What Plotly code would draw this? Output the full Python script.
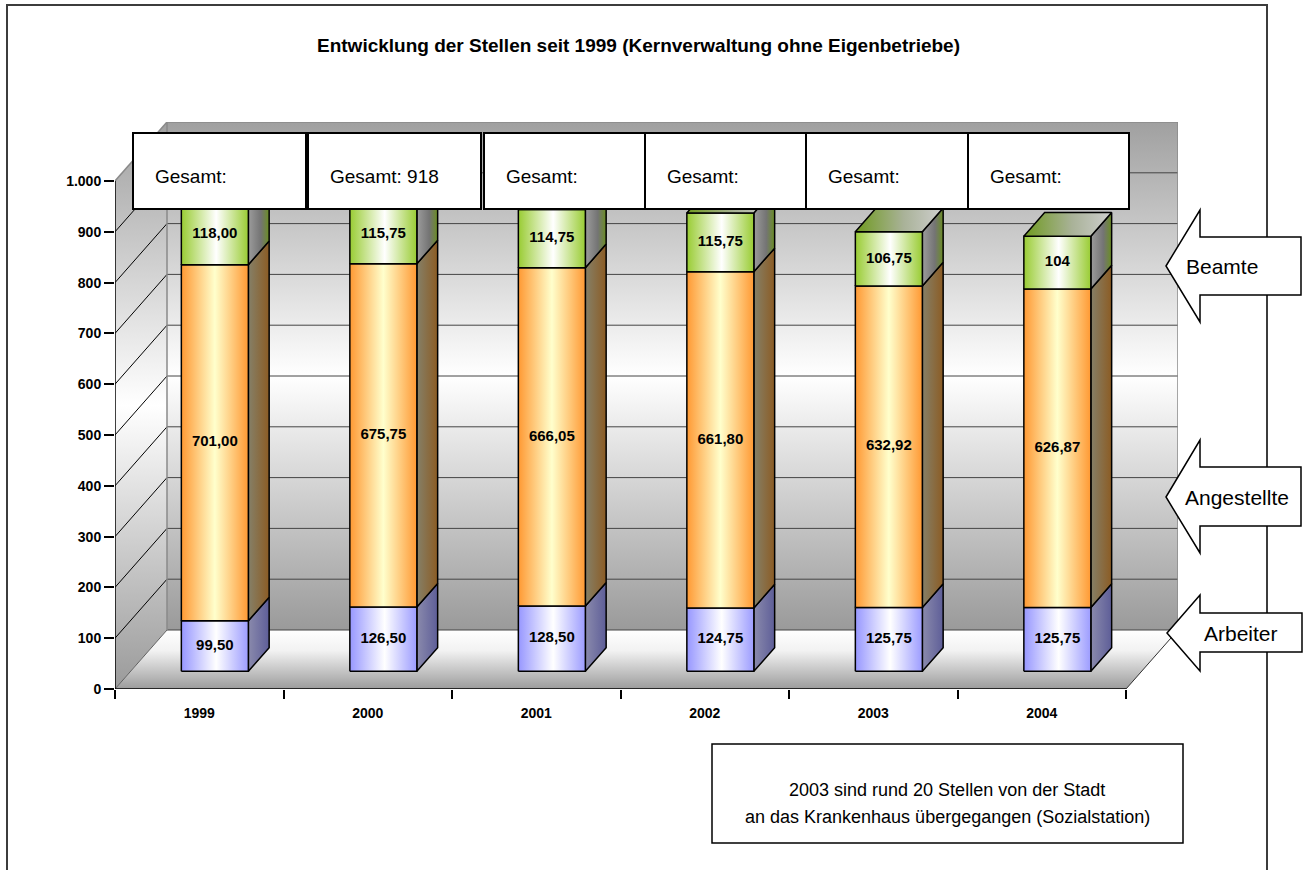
import plotly.graph_objects as go

# ---------------- data ----------------
years = ['1999', '2000', '2001', '2002', '2003', '2004']
arbeiter = [99.50, 126.50, 128.50, 124.75, 125.75, 125.75]
angestellte = [701.00, 675.75, 666.05, 661.80, 632.92, 626.87]
beamte = [118.00, 115.75, 114.75, 115.75, 106.75, 104.00]
arbeiter_labels = ['99,50', '126,50', '128,50', '124,75', '125,75', '125,75']
angestellte_labels = ['701,00', '675,75', '666,05', '661,80', '632,92', '626,87']
beamte_labels = ['118,00', '115,75', '114,75', '115,75', '106,75', '104']
gesamt_labels = ['Gesamt:', 'Gesamt: 918', 'Gesamt:', 'Gesamt:', 'Gesamt:', 'Gesamt:']
series_names = ['Arbeiter', 'Angestellte', 'Beamte']
y_tickvals = [0, 100, 200, 300, 400, 500, 600, 700, 800, 900, 1000]
y_ticktext = ['0', '100', '200', '300', '400', '500', '600', '700', '800', '900', '1.000']
title_text = 'Entwicklung der Stellen seit 1999 (Kernverwaltung ohne Eigenbetriebe)'
note_lines = ['2003 sind rund 20 Stellen von der Stadt',
              'an das Krankenhaus übergegangen (Sozialstation)']

# ---------------- geometry ----------------
W, H = 1308, 870
PL, PR, PT, PB = 115, 1178, 122, 689          # plot area in pixels
CAT_W_PX = (1126 - 115) / 6.0                  # width of one category
Y_PX = (689 - 181) / 1000.0                     # px per value unit
DX = 52 / CAT_W_PX                              # depth offset (x units)
DY = 59 / Y_PX                                  # depth offset (y units)
F0, F1 = 0.3, 0.7                               # bar front/back depth
BW = 67 / CAT_W_PX                              # bar width
FONT = 'Arial, Liberation Sans, sans-serif'


def px(x):
    return (x - PL) / (PR - PL)


def py(y):
    return (PB - y) / (PB - PT)


fig = go.Figure()


def poly(xs, ys, grad=None, gtype='horizontal', fillcolor=None, lw=0, lc='black'):
    kw = dict(x=xs + [xs[0]], y=ys + [ys[0]], mode='lines', fill='toself',
              line=dict(width=lw, color=lc), hoverinfo='skip', showlegend=False)
    if grad is not None:
        kw['fillgradient'] = dict(type=gtype, colorscale=grad)
        kw['fillcolor'] = grad[len(grad) // 2][1]
    else:
        kw['fillcolor'] = fillcolor
    if lw == 0:
        kw['line'] = dict(width=0, color='rgba(0,0,0,0)')
    fig.add_trace(go.Scatter(**kw))


def lines(segs, color, width):
    xs, ys = [], []
    for (x0, y0, x1, y1) in segs:
        xs += [x0, x1, None]
        ys += [y0, y1, None]
    fig.add_trace(go.Scatter(x=xs, y=ys, mode='lines', line=dict(color=color, width=width),
                             hoverinfo='skip', showlegend=False))


XL, XR = -0.5, 5.5
YTOP = 1000

wall_grad = [[0, '#9a9a9a'], [0.5, '#ffffff'], [1, '#a0a0a0']]
# back wall
poly([XL + DX, XR + DX, XR + DX, XL + DX], [DY, DY, YTOP + DY, YTOP + DY], grad=wall_grad, gtype='vertical')
# left wall
poly([XL, XL + DX, XL + DX, XL], [0, DY, YTOP + DY, YTOP], grad=wall_grad, gtype='vertical')
# floor
poly([XL, XR, XR + DX, XL + DX], [0, 0, DY, DY],
     grad=[[0, '#9c9c9c'], [0.65, '#f2f2f2'], [1, '#ffffff']], gtype='vertical')

# gridlines
lines([(XL + DX, v + DY, XR + DX, v + DY) for v in y_tickvals[:-1]], '#454545', 1)
lines([(XL, v, XL + DX, v + DY) for v in y_tickvals[1:-1]], '#000000', 1)
# wall edges
lines([(XL + DX, DY, XL + DX, YTOP + DY), (XL + DX, YTOP + DY, XR + DX, YTOP + DY),
       (XR + DX, YTOP + DY, XR + DX, DY), (XL, YTOP, XL + DX, YTOP + DY)], '#8a8a8a', 1.5)
lines([(XL, 0, XL + DX, DY)], '#606060', 1)
lines([(XR, 0, XR + DX, DY)], '#303030', 1)
# front axis edges
lines([(XL, YTOP, XL, 0), (XL, 0, XR, 0)], '#000000', 1.5)

# ---------------- bars ----------------
front_grads = [
    [[0, '#9797ff'], [0.52, '#ffffff'], [1, '#9c9cff']],
    [[0, '#ff9933'], [0.5, '#ffffcc'], [1, '#ff9933']],
    [[0, '#99cc33'], [0.52, '#ffffff'], [1, '#99cc33']],
]
side_grads = [
    [[0, '#8a8aac'], [1, '#5e5e98']],
    [[0, '#858068'], [1, '#8c5c24']],
    [[0, '#9c9c9c'], [0.6, '#747474'], [1, '#6b8e23']],
]
top_grad = [[0, '#6f9a1f'], [0.55, '#a9b298'], [1, '#cfcfcf']]

series = [arbeiter, angestellte, beamte]
series_labels = [arbeiter_labels, angestellte_labels, beamte_labels]
dd_x = (F1 - F0) * DX
lab_x, lab_y, lab_t = [], [], []
for i in range(len(years)):
    xc = i + F0 * DX
    xl, xr = xc - BW / 2, xc + BW / 2
    base = 0.0
    for k, vals in enumerate(series):
        y0, y1 = base, base + vals[i]
        # side face
        poly([xr, xr + dd_x, xr + dd_x, xr],
             [y0 + F0 * DY, y0 + F1 * DY, y1 + F1 * DY, y1 + F0 * DY],
             grad=side_grads[k], lw=1.5)
        # front face
        poly([xl, xr, xr, xl], [y0 + F0 * DY, y0 + F0 * DY, y1 + F0 * DY, y1 + F0 * DY],
             grad=front_grads[k], lw=1.5)
        lab_x.append(xc)
        lab_y.append((y0 + y1) / 2 + F0 * DY)
        lab_t.append(series_labels[k][i])
        base = y1
    # top face
    poly([xl, xr, xr + dd_x, xl + dd_x],
         [base + F0 * DY, base + F0 * DY, base + F1 * DY, base + F1 * DY],
         grad=top_grad, lw=1.5)

fig.add_trace(go.Scatter(x=lab_x, y=lab_y, text=lab_t, mode='text',
                         textfont=dict(family=FONT, size=15, color='black', weight='bold'),
                         hoverinfo='skip', showlegend=False))

# ---------------- shapes / annotations ----------------
shapes = []
annotations = []

# outer frame
shapes.append(dict(type='rect', xref='paper', yref='paper', x0=px(7), x1=px(1267),
                   y0=py(900), y1=py(5), line=dict(color='#3c3c3c', width=2),
                   fillcolor='rgba(0,0,0,0)', layer='above'))

# Gesamt boxes
box_x = [(133, 306), (308, 481), (484, 645), (645, 806), (806, 968), (968, 1129)]
for (bx0, bx1), txt in zip(box_x, gesamt_labels):
    shapes.append(dict(type='rect', xref='paper', yref='paper', x0=px(bx0), x1=px(bx1),
                       y0=py(209), y1=py(133), line=dict(color='black', width=2),
                       fillcolor='white', layer='above'))
    annotations.append(dict(xref='paper', yref='paper', x=px(bx0 + 20), y=py(176),
                            xanchor='left', yanchor='middle', showarrow=False, text=txt,
                            font=dict(family=FONT, size=19, color='black')))

# arrows (legend)
arrow_specs = [  # tip_x, tip_y, head_x, head_top, head_bot, shaft_top, shaft_bot, right, text_x
    (1166, 266, 1200, 210, 322, 237, 295, 1301, 1222),
    (1166, 497, 1200, 440, 553, 467, 526, 1301, 1237),
    (1167, 633, 1200, 595, 671, 613, 652, 1302, 1241),
]
arrow_names = ['Beamte', 'Angestellte', 'Arbeiter']
for spec, name in zip(arrow_specs, arrow_names):
    tx, ty, hx, ht, hb, st, sb, rx, lx = spec
    pts = [(tx, ty), (hx, ht), (hx, st), (rx, st), (rx, sb), (hx, sb), (hx, hb)]
    path = 'M ' + ' L '.join('%.5f,%.5f' % (px(a), py(b)) for a, b in pts) + ' Z'
    shapes.append(dict(type='path', xref='paper', yref='paper', path=path,
                       line=dict(color='black', width=1.5), fillcolor='white', layer='above'))
    annotations.append(dict(xref='paper', yref='paper', x=px(lx), y=py(ty), xanchor='center',
                            yanchor='middle', showarrow=False, text=name,
                            font=dict(family=FONT, size=21, color='black')))

# note box
shapes.append(dict(type='rect', xref='paper', yref='paper', x0=px(712), x1=px(1183),
                   y0=py(843), y1=py(744), line=dict(color='black', width=1.5),
                   fillcolor='white', layer='above'))
for j, ln in enumerate(note_lines):
    annotations.append(dict(xref='paper', yref='paper', x=px(947), y=py(790 + 27 * j),
                            xanchor='center', yanchor='middle', showarrow=False, text=ln,
                            font=dict(family=FONT, size=18, color='black')))

# title
annotations.append(dict(xref='paper', yref='paper', x=px(638), y=py(45), xanchor='center',
                        yanchor='middle', showarrow=False, text=title_text,
                        font=dict(family=FONT, size=19, color='black', weight='bold')))

fig.update_layout(
    width=W, height=H,
    margin=dict(l=PL, r=W - PR, t=PT, b=H - PB, pad=0),
    paper_bgcolor='white', plot_bgcolor='white',
    shapes=shapes, annotations=annotations,
    showlegend=False,
    xaxis=dict(range=[XL, XR + DX], tickmode='array', tickvals=list(range(len(years))),
               ticktext=years, ticks='outside', ticklen=11, tickcolor='rgba(0,0,0,0)',
               tickfont=dict(family=FONT, size=14, color='black', weight='bold'),
               showgrid=False, zeroline=False, showline=False, fixedrange=True,
               minor=dict(tickmode='array', tickvals=[v - 0.5 for v in range(len(years) + 1)],
                          ticks='outside', ticklen=9, tickwidth=1.5, tickcolor='black',
                          showgrid=False)),
    yaxis=dict(range=[0, YTOP + DY], tickmode='array', tickvals=y_tickvals, ticktext=y_ticktext,
               ticks='outside', ticklen=10, tickwidth=1.5, tickcolor='black',
               tickfont=dict(family=FONT, size=14, color='black', weight='bold'),
               showgrid=False, zeroline=False, showline=False, fixedrange=True),
)

fig.write_html('out.html')
